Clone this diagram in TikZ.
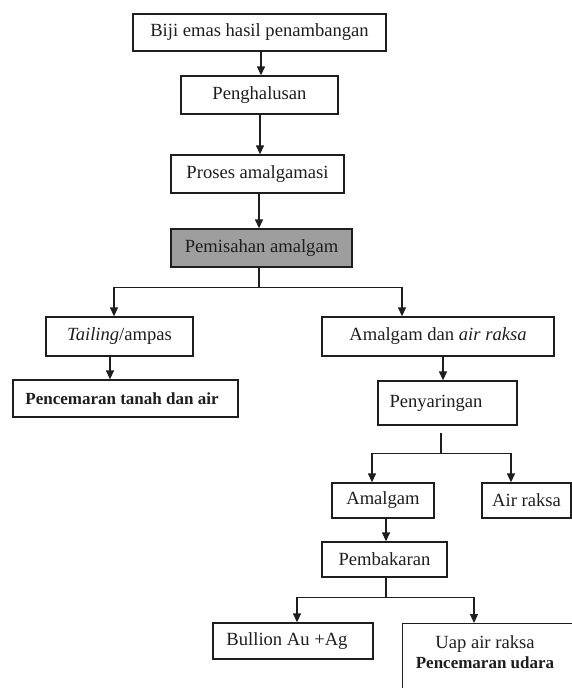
\documentclass[tikz,border=0pt]{standalone}
\usepackage{fontspec}
\setmainfont{Liberation Serif}
\usetikzlibrary{arrows.meta}
\definecolor{boxgray}{RGB}{158,158,158}
\definecolor{ink}{RGB}{30,30,30}
\newcommand{\boldsmall}[1]{{\fontsize{17}{20}\selectfont\textbf{#1}}}
\begin{document}
\begin{tikzpicture}[x=1pt,y=-1pt,
  every node/.style={font=\fontsize{18.6}{20}\selectfont, text=ink},
  box/.style={draw=ink, line width=1.3pt, rectangle, inner sep=0pt},
  ln/.style={draw=ink, line width=1.3pt},
  arr/.style={ln, -{Triangle[length=9pt,width=8pt]}}]
\useasboundingbox (0,0) rectangle (572,688);
\clip (0,0) rectangle (572,688);
% boxes
\node[box, minimum width=253pt, minimum height=37pt] (biji) at (259.5,32.5) {Biji emas hasil penambangan};
\node[box, minimum width=157pt, minimum height=38pt] (pgh) at (259.5,95) {Penghalusan};
\node[box, minimum width=173pt, minimum height=38pt] (pro) at (257.5,174) {Proses amalgamasi};
\node[box, fill=boxgray, minimum width=181pt, minimum height=38pt] (pem) at (261.5,248) {Pemisahan amalgam};
\node[box, minimum width=147pt, minimum height=39pt] (tail) at (119.5,336.5) {\textit{Tailing}/ampas};
\node[box, minimum width=225pt, minimum height=37pt] (pct) at (125.5,398.5) {\boldsmall{Pencemaran tanah dan air}\hspace*{7pt}};
\node[box, minimum width=232pt, minimum height=39pt] (adr) at (438,336.5) {Amalgam dan \textit{air raksa}};
\node[box, minimum width=139pt, minimum height=44pt] (pny) at (447.5,403) {\raisebox{4pt}{Penyaringan}\hspace*{23pt}};
\node[box, minimum width=102pt, minimum height=35pt] (amg) at (383,500.5) {Amalgam};
\node[box, minimum width=89pt, minimum height=35pt] (air) at (526.5,500.5) {Air raksa};
\node[box, minimum width=125pt, minimum height=35pt] (pbk) at (384.5,559.5) {Pembakaran};
\node[box, minimum width=160pt, minimum height=36pt] (bul) at (293,641) {Bullion Au +Ag\hspace*{12pt}};
\node[box, anchor=north west, minimum width=200pt, minimum height=100pt] (uap) at (402,623) {};
\node[align=center] (uaptxt) at (485,652) {Uap air raksa\\\boldsmall{Pencemaran udara}};
% connectors
\draw[arr] ([xshift=1.5pt]biji.south) -- ([xshift=1.5pt]biji.south |- pgh.north);
\draw[arr] ([xshift=0.5pt]pgh.south) -- ([xshift=0.5pt]pgh.south |- pro.north);
\draw[arr] ([xshift=1.5pt]pro.south) -- ([xshift=1.5pt]pro.south |- pem.north);
\draw[ln] ([xshift=-2.5pt]pem.south) -- ++(0,20) coordinate (j1);
\draw[arr] (j1) -| ([xshift=-5.5pt]tail.north);
\draw[arr] (j1) -| ([xshift=-36pt]adr.north);
\draw[arr] ([xshift=-9.5pt]tail.south) -- ([xshift=-9.5pt]tail.south |- pct.north);
\draw[arr] ([xshift=5pt]adr.south) -- ([xshift=5pt]adr.south |- pny.north);
\draw[ln] ([xshift=-6.5pt,yshift=-7pt]pny.south) -- ++(0,21) coordinate (j2);
\draw[arr] (j2) -| ([xshift=-11pt]amg.north);
\draw[arr] (j2) -| ([xshift=-15.5pt]air.north);
\draw[arr] ([xshift=3pt]amg.south) -- ([xshift=3pt]amg.south |- pbk.north);
\draw[ln] ([xshift=1.5pt]pbk.south) -- ++(0,20) coordinate (j3);
\draw[arr] (j3) -| ([xshift=4pt]bul.north);
\draw[arr] (j3) -| ([xshift=72pt]uap.north west);
\end{tikzpicture}
\end{document}
